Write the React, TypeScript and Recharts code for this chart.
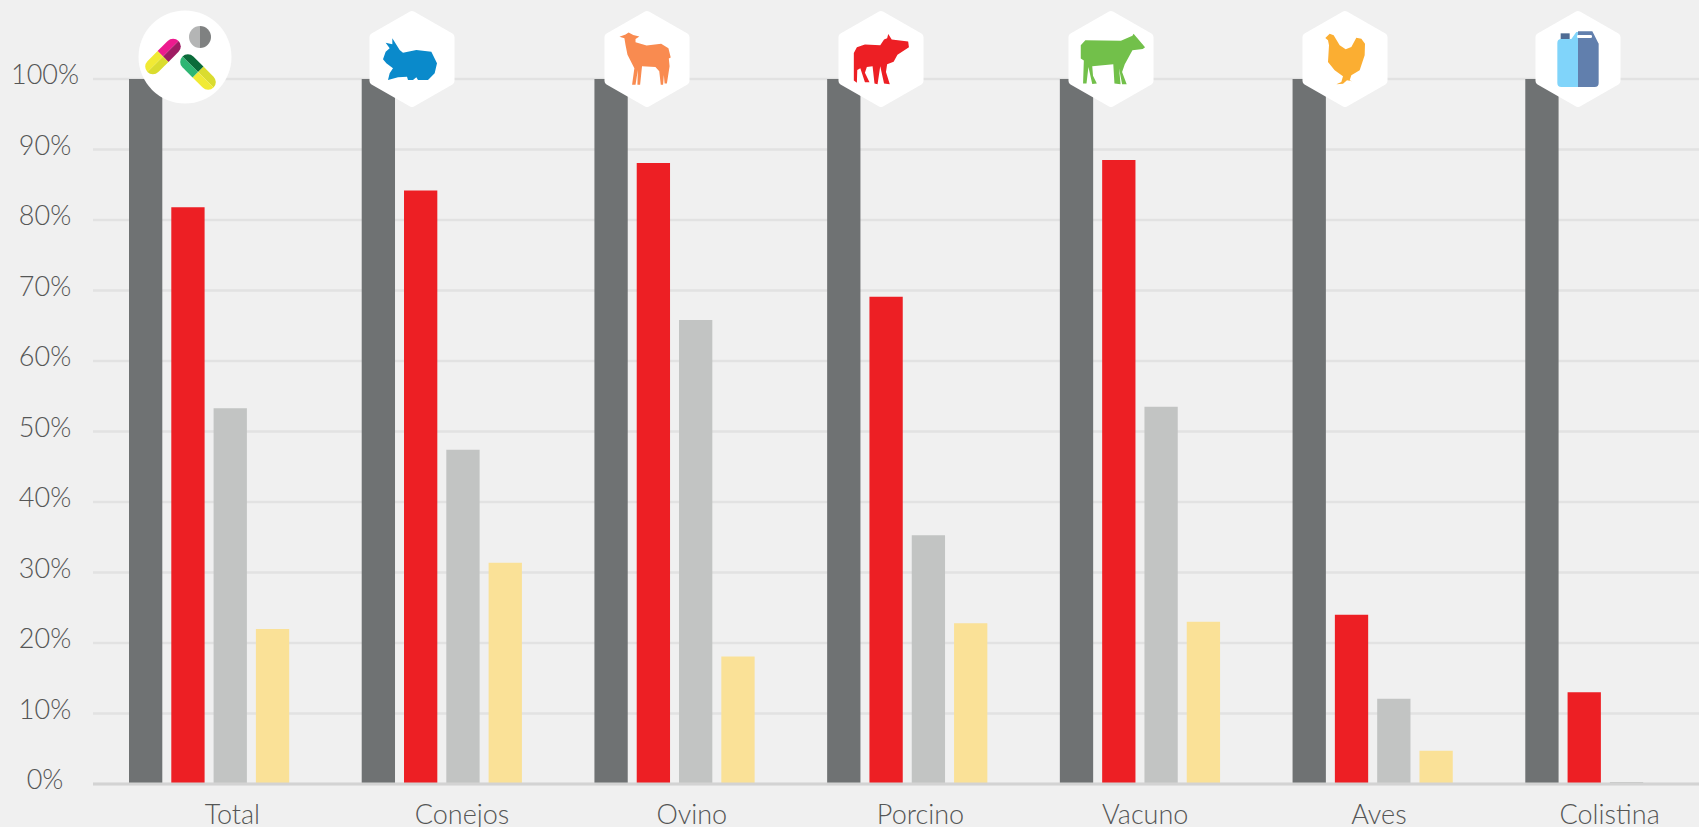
import { BarChart, Bar, XAxis, YAxis, CartesianGrid } from "recharts";

// Values (percent)
const categories = ["Total", "Conejos", "Ovino", "Porcino", "Vacuno", "Aves", "Colistina"];
const allValues = [100, 100, 100, 100, 100, 100, 100];
const redValues = [81.8, 84.2, 88.1, 69.1, 88.5, 24, 13];
const greyValues = [53.3, 47.4, 65.8, 35.3, 53.5, 12.1, 0.3];
const yellowValues = [22, 31.4, 18.1, 22.8, 23, 4.7, 0];
const yTicks = [0, 10, 20, 30, 40, 50, 60, 70, 80, 90, 100];

// Category labels in the reference drift left of their groups' offset
const labelOffsets = [23, 20, 17, 13, 5, 6, 4];

const chartData = categories.map((name, i) => ({
  name,
  all: allValues[i],
  red: redValues[i],
  grey: greyValues[i],
  yellow: yellowValues[i],
}));

const FONT = "Lato, 'Open Sans', sans-serif";
const TEXT = "#555656";

function YTick({ y, payload }: any) {
  return (
    <text x={45} y={y + 5} textAnchor="middle" fontFamily={FONT} fontWeight={300} fontSize={27} fill={TEXT}>
      {payload.value}%
    </text>
  );
}

function XTick({ x, payload, index }: any) {
  return (
    <text x={x + labelOffsets[index]} y={824} textAnchor="middle" fontFamily={FONT} fontWeight={300} fontSize={27} fill={TEXT}>
      {payload.value}
    </text>
  );
}

// --- icon badges drawn over the bars ---
const HEX = "0,-44 38.5,-22 38.5,22 0,44 -38.5,22 -38.5,-22";

function Hex({ cx, children }: any) {
  return (
    <g transform={`translate(${cx},59)`}>
      <polygon points={HEX} fill="#fff" stroke="#fff" strokeWidth={8} strokeLinejoin="round" />
      {children}
    </g>
  );
}

// silhouettes are traced in zoomed-crop pixels, so each one gets its own scale
function Trace({ ox, oy, k, fill, points }: any) {
  return <polygon transform={`scale(${1 / k}) translate(${-ox},${-oy})`} points={points} fill={fill} />;
}

const rabbit =
  "1178,115 1200,150 1210,158 1250,150 1295,155 1312,190 1305,220 1285,240 1255,240 1250,232 1240,240 1225,240 1222,230 1195,232 1165,240 1170,220 1180,205 1160,190 1150,178 1158,155 1170,145 1158,128 1178,133";
const sheep =
  "104,118 120,112 128,107 140,113 156,117 146,124 146,132 175,141 213,136 232,148 238,172 233,175 235,195 228,240 222,240 220,218 218,243 212,243 208,208 198,197 163,195 158,243 151,243 152,205 146,243 137,243 143,200 125,165 120,140 117,122";
const pig =
  "716,160 724,145 745,138 785,140 795,125 803,122 806,111 815,125 858,130 860,145 830,165 820,183 803,190 800,210 810,242 795,240 785,195 778,242 770,240 765,195 750,197 745,212 757,237 745,237 733,200 725,205 724,238 716,232";
const cow =
  "1310,140 1322,127 1415,128 1445,115 1448,110 1478,145 1472,150 1445,153 1425,190 1418,210 1430,242 1418,242 1410,200 1414,242 1398,240 1395,190 1340,195 1342,220 1352,240 1340,241 1330,197 1325,240 1316,240 1318,180 1310,175";
const hen =
  "197,113 210,100 222,105 240,135 258,147 275,140 290,112 305,115 316,130 315,165 300,210 275,225 270,240 277,243 262,240 250,250 230,252 245,245 250,228 225,210 205,185 208,135 205,120";

function Capsule({ cx, cy, angle, colors }: any) {
  const L = 22;
  const h = 7.7;
  const s = L - h;
  return (
    <g transform={`translate(${cx},${cy}) rotate(${angle})`}>
      <path d={`M0,0 V${-h} H${s} A${h},${h} 0 0 1 ${L},0 Z`} fill={colors[0]} />
      <path d={`M0,0 V${h} H${s} A${h},${h} 0 0 0 ${L},0 Z`} fill={colors[1]} />
      <path d={`M0,0 V${-h} H${-s} A${h},${h} 0 0 0 ${-L},0 Z`} fill={colors[2]} />
      <path d={`M0,0 V${h} H${-s} A${h},${h} 0 0 1 ${-L},0 Z`} fill={colors[3]} />
    </g>
  );
}

function Icons() {
  return (
    <svg width={1699} height={827} style={{ position: "absolute", left: 0, top: 0 }}>
      <circle cx={185} cy={57} r={46.5} fill="#fff" />
      <path d="M200,26 A11,11 0 0 0 200,48 Z" fill="#b4b5b5" />
      <path d="M200,26 A11,11 0 0 1 200,48 Z" fill="#7f8181" />
      <Capsule cx={163} cy={56.5} angle={-45} colors={["#ec1a8e", "#9e1b63", "#f1ea34", "#dadc2f"]} />
      <Capsule cx={198} cy={72} angle={45} colors={["#dadc2f", "#f1ea34", "#0b6b3a", "#2eb673"]} />

      <Hex cx={412}>
        <Trace ox={1237} oy={177} k={3} fill="#0a8acb" points={rabbit} />
      </Hex>
      <Hex cx={647}>
        <Trace ox={176} oy={176} k={2.613} fill="#f98b50" points={sheep} />
      </Hex>
      <Hex cx={881}>
        <Trace ox={787} oy={176} k={2.613} fill="#ed1f24" points={pig} />
      </Hex>
      <Hex cx={1111}>
        <Trace ox={1389} oy={176} k={2.613} fill="#72c04a" points={cow} />
      </Hex>
      <Hex cx={1345}>
        <Trace ox={256} oy={176} k={3} fill="#fbae32" points={hen} />
      </Hex>
      <Hex cx={1578}>
        <g transform="scale(0.3333) translate(-955,-176)">
          <rect x={903} y={99} width={27} height={20} fill="#4f6c94" />
          <path d="M955,93 H998 L1017,130 V248 Q1017,260 1005,260 H955 Z" fill="#617fad" />
          <path d="M955,95 H950 L935,116 H905 Q893,116 893,128 V248 Q893,260 905,260 H955 Z" fill="#80d4fa" />
          <rect x={952} y={104} width={45} height={9} rx={4} fill="#fff" />
        </g>
      </Hex>
    </svg>
  );
}

export default function App() {
  return (
    <div
      style={{
        position: "fixed",
        left: 0,
        top: 0,
        width: 1699,
        height: 827,
        overflow: "hidden",
        background: "#f0f0f0",
      }}
    >
      <BarChart
        width={1722}
        height={881}
        data={chartData}
        margin={{ top: 79, right: 0, bottom: 0, left: 0 }}
        barSize={33.3}
        barGap={9}
      >
        <CartesianGrid vertical={false} stroke="#e2e2e2" strokeWidth={2.5} />
        <XAxis
          dataKey="name"
          height={97}
          interval={0}
          tick={<XTick />}
          tickLine={false}
          axisLine={{ stroke: "#d3d3d3", strokeWidth: 3 }}
        />
        <YAxis
          width={93}
          domain={[0, 100]}
          ticks={yTicks}
          interval={0}
          tick={<YTick />}
          tickLine={false}
          axisLine={false}
        />
        <Bar dataKey="all" fill="#6f7273" isAnimationActive={false} />
        <Bar dataKey="red" fill="#ed1f24" isAnimationActive={false} />
        <Bar dataKey="grey" fill="#c2c4c3" isAnimationActive={false} />
        <Bar dataKey="yellow" fill="#fae197" isAnimationActive={false} />
      </BarChart>
      <Icons />
    </div>
  );
}
